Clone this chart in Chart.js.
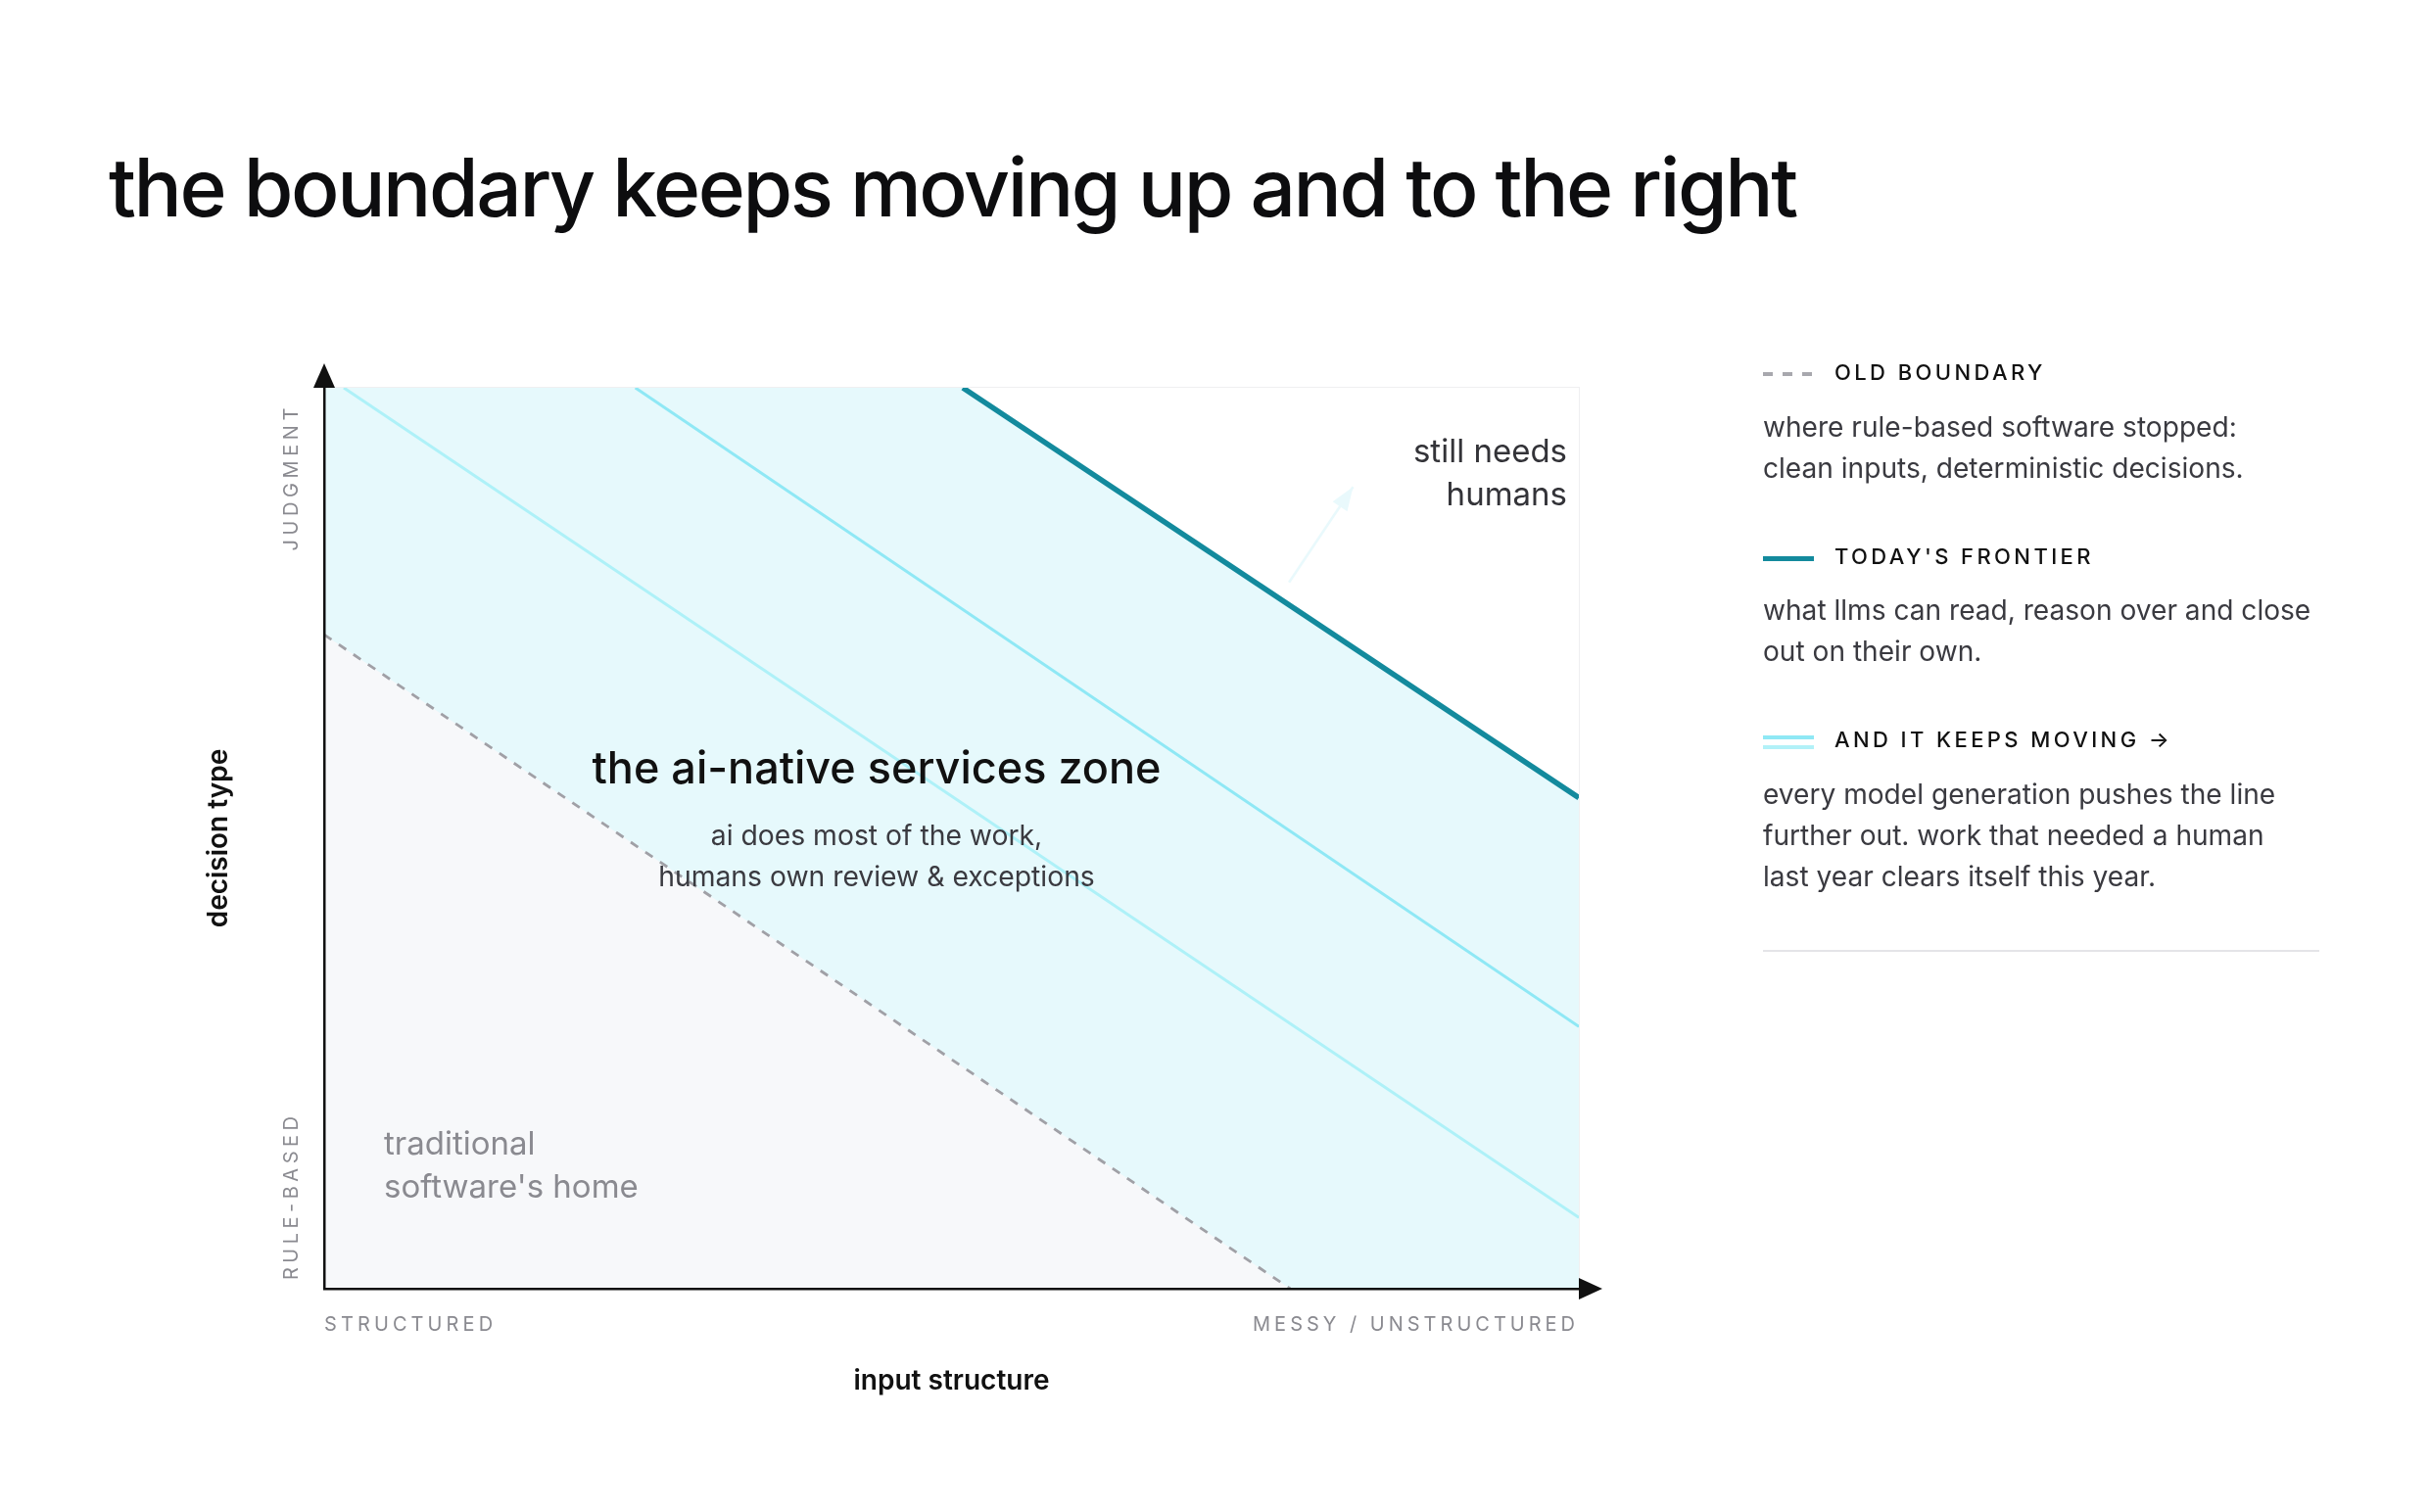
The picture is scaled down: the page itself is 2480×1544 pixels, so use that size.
<!DOCTYPE html>
<html>
<head>
<meta charset="utf-8">
<script src="https://cdn.jsdelivr.net/npm/chart.js@4.4.1/dist/chart.umd.min.js"></script>
<style>
  html, body { margin: 0; padding: 0; background: #fff; }
  body { width: 2480px; height: 1544px; position: relative; overflow: hidden; font-family: Inter, "Noto Sans", sans-serif; }
  #wrap { position: absolute; left: 0; top: 0; width: 2480px; height: 1544px; }
  .title { position: absolute; left: 111px; top: 151px; font-size: 82px; line-height: 82px; font-weight: 500; letter-spacing: -2.4px; color: #0d0d0f; white-space: nowrap; }
  .key { position: absolute; left: 1873px; font-size: 22px; line-height: 22px; font-weight: 500; letter-spacing: 3.4px; color: #111; white-space: nowrap; }
  .desc { position: absolute; left: 1800px; font-size: 28.1px; line-height: 42px; color: #3a3a40; white-space: nowrap; }
  .swatch { position: absolute; left: 1800px; width: 52px; }
  .dashes { background: repeating-linear-gradient(90deg, #a8a8ae 0 10px, transparent 10px 20px); width: 50px; }
  .rule { position: absolute; left: 1800px; top: 970px; width: 568px; height: 2px; background: #e4e4e8; }
</style>
</head>
<body>
<div id="wrap"><canvas id="chart"></canvas></div>

<div class="title">the boundary keeps moving up and to the right</div>

<div class="swatch dashes" style="top:380px;height:4px;"></div>
<div class="key" style="top:369px">OLD BOUNDARY</div>
<div class="desc" style="top:415px">where rule-based software stopped:<br>clean inputs, deterministic decisions.</div>

<div class="swatch" style="top:568px;height:5px;background:#138a9d;"></div>
<div class="key" style="top:557px">TODAY'S FRONTIER</div>
<div class="desc" style="top:602px">what llms can read, reason over and close<br>out on their own.</div>

<div class="swatch" style="top:751px;height:4px;background:#8fe8f5;"></div>
<div class="swatch" style="top:761px;height:4px;background:#b2f1f8;"></div>
<div class="key" style="top:744px">AND IT KEEPS MOVING &rarr;</div>
<div class="desc" style="top:790px">every model generation pushes the line<br>further out. work that needed a human<br>last year clears itself this year.</div>
<div class="rule"></div>

<script>
// input structure (x: 0 = structured, 1 = messy) vs decision type (y: 0 = rule-based, 1 = judgment)
const zoneX = [0, 1];
const zoneY = [1, 1];
const oldBoundaryX = [0, 0.77];
const oldBoundaryY = [0.726, 0];
const frontierX = [0.509, 1];
const frontierY = [1, 0.545];
const nextGenX = [0.248, 1];
const nextGenY = [1, 0.291];
const laterGenX = [0.0156, 1];
const laterGenY = [1, 0.079];
const driftX = [0.769, 0.82];
const driftY = [0.784, 0.89];

const xTickLabels = ['STRUCTURED', 'MESSY / UNSTRUCTURED'];
const yTickLabels = ['RULE-BASED', 'JUDGMENT'];
const xTitle = 'input structure';
const yTitle = 'decision type';

const toPoints = (xs, ys) => xs.map((x, i) => ({ x, y: ys[i] }));

const line = (data, extra) => Object.assign({
  data,
  showLine: true,
  pointRadius: 0,
  borderWidth: 0,
  fill: false,
  tension: 0
}, extra);

// labels, arrowheads and the faint plot frame
const decorations = {
  id: 'decorations',
  beforeDatasetsDraw(chart) {
    const { ctx, chartArea: ca } = chart;
    ctx.save();
    ctx.strokeStyle = '#efeff1';
    ctx.lineWidth = 2;
    ctx.beginPath();
    ctx.moveTo(ca.left, ca.top);
    ctx.lineTo(ca.right, ca.top);
    ctx.lineTo(ca.right, ca.bottom);
    ctx.stroke();
    ctx.restore();
  },
  afterDraw(chart) {
    const { ctx, chartArea: ca, scales } = chart;
    ctx.save();

    // axis arrowheads
    ctx.fillStyle = '#111';
    ctx.beginPath();
    ctx.moveTo(ca.left, ca.top - 25);
    ctx.lineTo(ca.left - 11, ca.top);
    ctx.lineTo(ca.left + 11, ca.top);
    ctx.closePath();
    ctx.fill();
    ctx.beginPath();
    ctx.moveTo(ca.right + 24, ca.bottom);
    ctx.lineTo(ca.right, ca.bottom - 11);
    ctx.lineTo(ca.right, ca.bottom + 11);
    ctx.closePath();
    ctx.fill();

    // faint drift arrowhead
    const x0 = scales.x.getPixelForValue(driftX[0]), y0 = scales.y.getPixelForValue(driftY[0]);
    const x1 = scales.x.getPixelForValue(driftX[1]), y1 = scales.y.getPixelForValue(driftY[1]);
    const a = Math.atan2(y1 - y0, x1 - x0);
    ctx.fillStyle = '#e9f9fc';
    ctx.beginPath();
    ctx.moveTo(x1, y1);
    ctx.lineTo(x1 - 24 * Math.cos(a) + 9 * Math.sin(a), y1 - 24 * Math.sin(a) - 9 * Math.cos(a));
    ctx.lineTo(x1 - 24 * Math.cos(a) - 9 * Math.sin(a), y1 - 24 * Math.sin(a) + 9 * Math.cos(a));
    ctx.closePath();
    ctx.fill();

    const text = (s, x, y, font, color, align, spacing) => {
      ctx.font = font;
      ctx.fillStyle = color;
      ctx.textAlign = align;
      ctx.textBaseline = 'alphabetic';
      ctx.letterSpacing = spacing || '0px';
      ctx.fillText(s, x, y);
    };

    const midX = (ca.left + ca.right) / 2;
    const midY = (ca.top + ca.bottom) / 2;

    // zone labels
    text('the ai-native services zone', ca.left + 564, ca.top + 404, '500 45px Inter', '#111', 'center');
    text('ai does most of the work,', ca.left + 564, ca.top + 467, '400 28.3px Inter', '#3a3a40', 'center');
    text('humans own review & exceptions', ca.left + 564, ca.top + 509, '400 28.3px Inter', '#3a3a40', 'center');
    text('traditional', ca.left + 61, ca.top + 783, '400 33px Inter', '#8a8a90', 'left');
    text("software's home", ca.left + 61, ca.top + 827, '400 33px Inter', '#8a8a90', 'left');
    text('still needs', ca.right - 12, ca.top + 76, '400 33px Inter', '#333338', 'right');
    text('humans', ca.right - 12, ca.top + 120, '400 33px Inter', '#333338', 'right');

    // x axis labels
    text(xTickLabels[0], ca.left, ca.bottom + 43, '400 20px Inter', '#8a8a90', 'left', '4.1px');
    text(xTickLabels[1], ca.right, ca.bottom + 43, '400 20px Inter', '#8a8a90', 'right', '4px');
    text(xTitle, midX, ca.bottom + 103, '600 28px Inter', '#111', 'center');

    // y axis labels, rotated
    ctx.save();
    ctx.translate(ca.left - 27, 0);
    ctx.rotate(-Math.PI / 2);
    text(yTickLabels[0], -(ca.bottom - 9), 0, '400 20px Inter', '#8a8a90', 'left', '4.5px');
    text(yTickLabels[1], -(ca.top + 16), 0, '400 20px Inter', '#8a8a90', 'right', '4.6px');
    ctx.restore();

    ctx.save();
    ctx.translate(ca.left - 99, midY);
    ctx.rotate(-Math.PI / 2);
    text(yTitle, 0, 0, '600 28px Inter', '#111', 'center');
    ctx.restore();

    ctx.restore();
  }
};

new Chart(document.getElementById('chart'), {
  type: 'scatter',
  data: {
    datasets: [
      line(toPoints(driftX, driftY), { borderColor: '#e9f9fc', borderWidth: 2.5, order: 0 }),
      line(toPoints(frontierX, frontierY), { borderColor: '#138a9d', borderWidth: 5.5, fill: 'end', backgroundColor: '#ffffff', order: 1 }),
      line(toPoints(oldBoundaryX, oldBoundaryY), { borderColor: '#a0a0a6', borderWidth: 2.8, borderDash: [9, 9], fill: 'origin', backgroundColor: '#f7f8fa', order: 2 }),
      line(toPoints(nextGenX, nextGenY), { borderColor: '#8fe8f5', borderWidth: 3, order: 3 }),
      line(toPoints(laterGenX, laterGenY), { borderColor: '#aef1f8', borderWidth: 3, order: 4 }),
      line(toPoints(zoneX, zoneY), { fill: 'origin', backgroundColor: '#e6f9fc', order: 10 })
    ]
  },
  options: {
    responsive: true,
    maintainAspectRatio: false,
    animation: false,
    events: [],
    layout: { padding: { left: 331, top: 396, right: 868, bottom: 228 } },
    plugins: { legend: { display: false }, tooltip: { enabled: false } },
    scales: {
      x: {
        type: 'linear', min: 0, max: 1,
        ticks: { display: false },
        grid: { display: false, drawTicks: false },
        border: { display: true, color: '#111', width: 2.5, z: 1 }
      },
      y: {
        type: 'linear', min: 0, max: 1,
        ticks: { display: false },
        grid: { display: false, drawTicks: false },
        border: { display: true, color: '#111', width: 2.5, z: 1 }
      }
    }
  },
  plugins: [decorations]
});
</script>
</body>
</html>
